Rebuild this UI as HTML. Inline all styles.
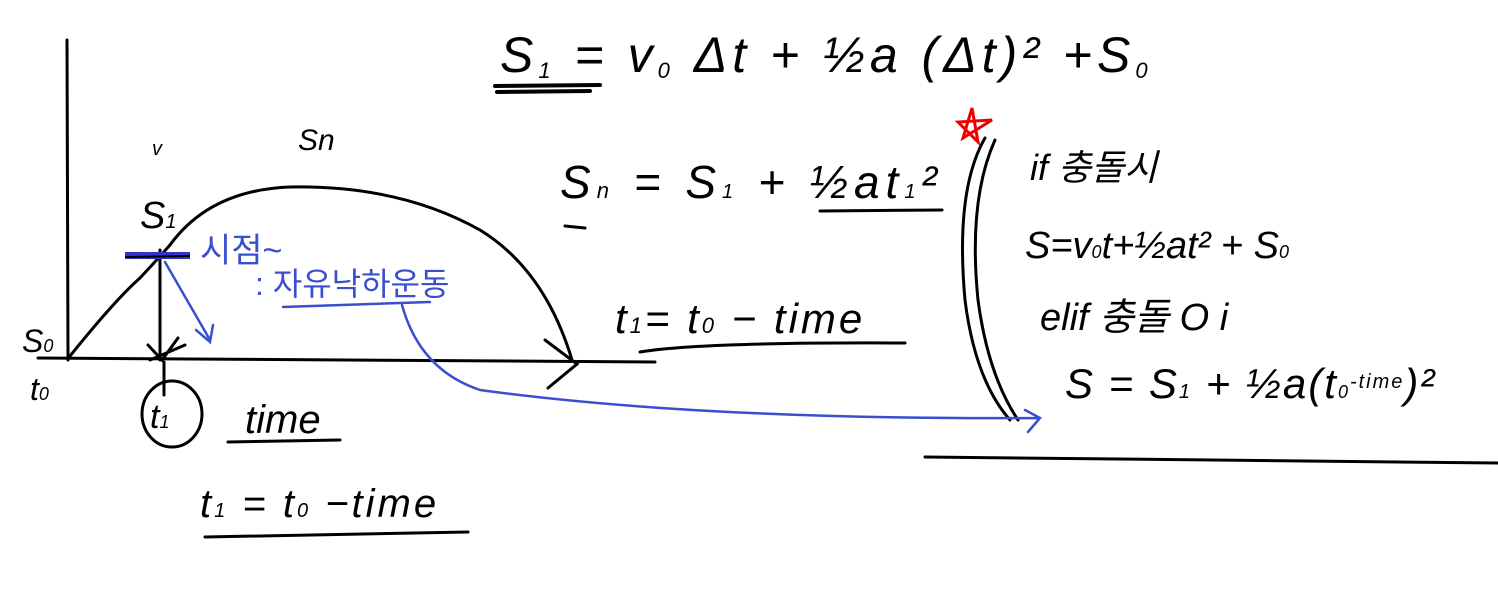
<!DOCTYPE html>
<html><head><meta charset="utf-8"><style>
html,body{margin:0;padding:0;background:#fff;}
svg{display:block;}
text{font-family:"Liberation Sans","Noto Sans CJK KR",sans-serif;}
</style></head><body>
<svg width="1498" height="612" viewBox="0 0 1498 612">
<g fill="none" stroke="#000" stroke-width="3" stroke-linecap="round">
  <path d="M67 40 L68 360"/>
  <path d="M38 358 L655 362"/>
  <path d="M70 356 Q115 300 140 278 Q155 262 170 245 Q210 190 290 187 Q400 185 480 230 Q545 270 572 360"/>
  <path d="M545 340 L577 364 L548 388"/>
  <path d="M160 250 L160 360"/>
  <path d="M148 345 L162 360 L178 338 M150 360 L185 345"/>
  <path d="M164 362 L164 395"/>
  <ellipse cx="172" cy="414" rx="30" ry="33"/>
  <path d="M228 442 L340 440"/>
  <path d="M205 537 L468 532"/>
  <path d="M495 86 L600 85 M497 92 L590 91" stroke-width="4"/>
  <path d="M820 211 L942 210 M565 226 L585 228"/>
  <path d="M640 352 Q700 342 905 343"/>
  <path d="M985 138 Q955 190 965 300 Q975 380 1010 420"/>
  <path d="M995 140 Q968 200 978 300 Q988 375 1018 420"/>
  <path d="M925 457 L1498 463"/>
</g>
<path d="M972 108 L978 142 L958 122 L992 120 L963 138 Z" fill="none" stroke="#e00" stroke-width="3"/>
<rect x="125" y="252" width="65" height="7" fill="#33c"/>
<path d="M125 257 L190 256" stroke="#000" stroke-width="2"/>
<g fill="none" stroke="#3a4fd0" stroke-width="2.5" stroke-linecap="round">
  <path d="M165 262 L210 340 M196 330 L210 342 L213 325"/>
  <path d="M283 307 L430 302"/>
  <path d="M402 305 Q420 370 480 390 Q700 420 1040 418 M1025 410 L1040 418 L1028 432"/>
</g>
<g fill="#000" font-style="italic">
  <text x="500" y="72" font-size="50" letter-spacing="5">S<tspan font-size="22" dy="6">1</tspan><tspan dy="-6"> = v</tspan><tspan font-size="22" dy="6">0</tspan><tspan dy="-6"> Δt + ½a (Δt)² +S</tspan><tspan font-size="22" dy="6">0</tspan></text>
  <text x="560" y="198" font-size="46" letter-spacing="6">S<tspan font-size="22">n</tspan> = S<tspan font-size="20">1</tspan> + ½at<tspan font-size="20">1</tspan>²</text>
  <text x="615" y="333" font-size="42" letter-spacing="3">t<tspan font-size="22">1</tspan>= t<tspan font-size="22">0</tspan> − time</text>
  <text x="298" y="150" font-size="30">Sn</text>
  <text x="152" y="155" font-size="20">v</text>
  <text x="140" y="228" font-size="38">S<tspan font-size="20">1</tspan></text>
  <text x="22" y="352" font-size="32">S<tspan font-size="18">0</tspan></text>
  <text x="30" y="400" font-size="32">t<tspan font-size="18">0</tspan></text>
  <text x="150" y="428" font-size="34">t<tspan font-size="18">1</tspan></text>
  <text x="245" y="433" font-size="40">time</text>
  <text x="200" y="517" font-size="40" letter-spacing="3">t<tspan font-size="20">1</tspan> = t<tspan font-size="20">0</tspan> −time</text>
  <text x="1030" y="180" font-size="36">if 충돌시</text>
  <text x="1025" y="258" font-size="38">S=v<tspan font-size="18">0</tspan>t+½at² + S<tspan font-size="18">0</tspan></text>
  <text x="1040" y="330" font-size="38">elif 충돌 O i</text>
  <text x="1065" y="398" font-size="42" letter-spacing="2">S = S<tspan font-size="20">1</tspan> + ½a(t<tspan font-size="18">0</tspan><tspan font-size="20" dy="-10">-time</tspan><tspan dy="10">)²</tspan></text>
</g>
<g fill="#3a4fd0">
  <text x="200" y="262" font-size="34">시점~</text>
  <text x="255" y="295" font-size="32">: 자유낙하운동</text>
</g>
</svg>
</body></html>
